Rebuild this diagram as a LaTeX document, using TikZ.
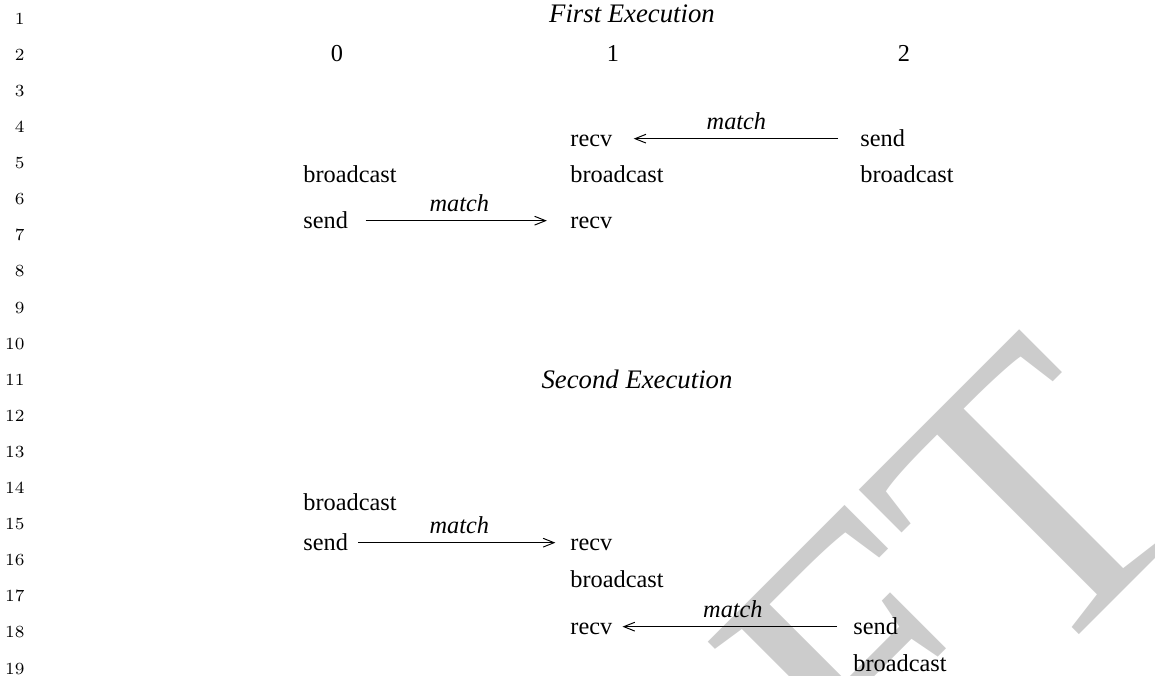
\documentclass[tikz,border=0pt]{standalone}
\usepackage{fontspec}
\setmainfont{Liberation Serif}
\usetikzlibrary{arrows.meta}
\tikzset{
        proc/.style={inner sep=0pt, anchor=base west, font=\fontsize{10}{12}\selectfont},
        rank/.style={inner sep=0pt, anchor=base, font=\fontsize{10}{12}\selectfont},
        heading/.style={inner sep=0pt, anchor=base, font=\fontsize{11}{13}\selectfont\itshape},
        msg/.style={draw, line width=0.4pt, -{Straight Barb[length=4.5pt,width=3.6pt]}},
        lbl/.style={midway, above, inner sep=3.3pt, font=\fontsize{10}{12}\selectfont\itshape},
        lnum/.style={inner sep=0pt, anchor=base east, font=\fontfamily{lmr}\fontsize{7}{8}\selectfont},
        wmark/.style={rotate=45, text=black!20, inner sep=0pt, font=\fontsize{162}{162}\selectfont}
    }
\begin{document}
\begin{tikzpicture}[x=0.4114pt, y=0.4114pt]
            \useasboundingbox (0,0) rectangle (1155,676);
            \node [wmark] (draft) at (659,-196) {DRAFT};
            \foreach \n in {1,...,19}
                \node [lnum] (ln\n) at (25,{651.7-36.1*(\n-1)}) {\n};

            \node [heading] (first) at (632,653) {First Execution};
            \node [rank] (r0) at (337,614) {0};
            \node [rank] (r1) at (613,614) {1};
            \node [rank] (r2) at (904,614) {2};

            \node [proc] (recvA)  at (570,529) {recv};
            \node [proc] (sendA)  at (860,529) {send};
            \node [proc] (bcastB0) at (303,493) {broadcast};
            \node [proc] (bcastB1) at (570,493) {broadcast};
            \node [proc] (bcastB2) at (860,493) {broadcast};
            \node [proc] (sendC)  at (303,447) {send};
            \node [proc] (recvC)  at (570,447) {recv};

            \node [heading] (second) at (637,287) {Second Execution};
            \node [proc] (bcastD) at (303,165) {broadcast};
            \node [proc] (sendE)  at (303,125) {send};
            \node [proc] (recvE)  at (570,125) {recv};
            \node [proc] (bcastF) at (570,88)  {broadcast};
            \node [proc] (recvG)  at (570,41)  {recv};
            \node [proc] (sendG)  at (853,41)  {send};
            \node [proc] (bcastH) at (853,4)   {broadcast};

            \draw [msg, shorten <=9pt, shorten >=8.6pt] (sendA.west) -- (sendA.west -| recvA.east) node [lbl] {match};
            \draw [msg, shorten <=7pt, shorten >=9.5pt] (sendC.east) -- (sendC.east -| recvC.west) node [lbl] {match};
            \draw [msg, shorten <=4pt, shorten >=6pt] (sendE.east) -- (sendE.east -| recvE.west) node [lbl] {match};
            \draw [msg, shorten <=6.5pt, shorten >=4pt] (sendG.west) -- (sendG.west -| recvG.east) node [lbl] {match};
        \end{tikzpicture}
\end{document}
